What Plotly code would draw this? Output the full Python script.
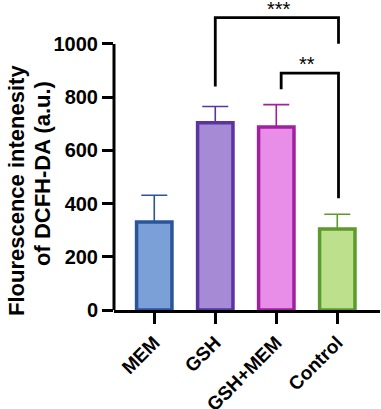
import plotly.graph_objects as go

categories = ["MEM", "GSH", "GSH+MEM", "Control"]
means = [331, 704, 688, 304]
errors = [100, 61, 84, 56]
fill_colors = ["#7BA0D8", "#A58AD6", "#E88EE8", "#BDE08C"]
line_colors = ["#2A559A", "#5A35A0", "#A020A0", "#5C9A2C"]
y_ticks = [0, 200, 400, 600, 800, 1000]

FONT = "Arial, Liberation Sans, sans-serif"

fig = go.Figure()
for i, c in enumerate(categories):
    fig.add_trace(go.Bar(
        x=[c], y=[means[i]], width=0.58,
        marker=dict(color=fill_colors[i], line=dict(color=line_colors[i], width=3.5)),
        error_y=dict(type="data", symmetric=False, array=[errors[i]], arrayminus=[0],
                     color=line_colors[i], thickness=1.6, width=13),
        showlegend=False,
    ))

# y axis line (only from 0 to 1000)
fig.add_shape(type="line", xref="paper", yref="y", x0=0, x1=0, y0=0, y1=1000,
              line=dict(color="black", width=3))

def bracket(x0, x1, yl, yr, ytop):
    fig.add_shape(type="path", xref="x", yref="y",
                  path=f"M {x0},{yl} L {x0},{ytop} L {x1},{ytop} L {x1},{yr}",
                  line=dict(color="black", width=2.8))

bracket(1, 3.02, 840, 1001, 1099)
bracket(2.08, 3.02, 830, 420, 890)

fig.add_annotation(x=2.05, y=1099, xref="x", yref="y", text="***", showarrow=False,
                   font=dict(family=FONT, size=20, color="black"), yanchor="bottom", yshift=-4)
fig.add_annotation(x=2.5, y=890, xref="x", yref="y", text="**", showarrow=False,
                   font=dict(family=FONT, size=20, color="black"), yanchor="bottom", yshift=-4)

# y axis title lines
fig.add_annotation(x=(16 - 114) / 266, y=(310 - 191) / 310, xref="paper", yref="paper",
                   text="<b>Flourescence intenesity</b>", textangle=-90, showarrow=False,
                   xanchor="center", yanchor="middle",
                   font=dict(family=FONT, size=22, color="black"))
fig.add_annotation(x=(42 - 114) / 266, y=(310 - 174) / 310, xref="paper", yref="paper",
                   text="<b>of DCFH-DA (a.u.)</b>", textangle=-90, showarrow=False,
                   xanchor="center", yanchor="middle",
                   font=dict(family=FONT, size=22, color="black"))

fig.update_layout(
    width=381, height=409,
    margin=dict(l=114, r=1, t=0, b=99),
    plot_bgcolor="white", paper_bgcolor="white",
    xaxis=dict(type="category", range=[-0.66, 3.7], showline=True, linecolor="black", linewidth=3,
               ticks="outside", ticklen=11, tickwidth=3, tickcolor="black", showgrid=False,
               automargin=False,
               tickangle=-45, tickfont=dict(family=FONT, size=19, color="black", weight="bold")),
    yaxis=dict(range=[0, 1165], showline=False, tickvals=y_ticks, ticktext=[str(v) for v in y_ticks],
               ticks="outside", ticklen=11, tickwidth=3, tickcolor="black", showgrid=False,
               automargin=False,
               zeroline=False, tickfont=dict(family=FONT, size=20, color="black", weight="bold")),
)

fig.write_html("out.html", post_script="document.body.style.margin='0';",
               config={"displayModeBar": False})
